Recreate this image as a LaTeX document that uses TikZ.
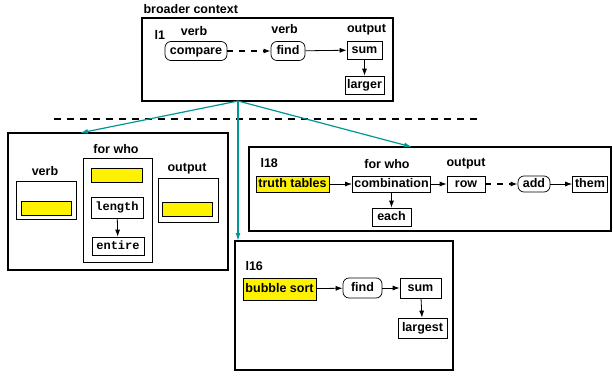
\documentclass[tikz,border=0pt]{standalone}
\usepackage{fontspec}
\setsansfont{Liberation Sans}
\setmonofont{Liberation Mono}
\usetikzlibrary{arrows.meta}
\definecolor{tealc}{RGB}{0,150,150}
\tikzset{
  frame/.style={draw,line width=1.6pt,inner sep=0pt},
  bx/.style={draw,line width=0.7pt,inner xsep=2pt,inner ysep=0pt,text height=9pt,text depth=2.5pt,minimum height=18pt},
  rbx/.style={bx,rounded corners=6pt},
  hl/.style={bx,fill=yellow},
  mono/.style={font=\ttfamily\bfseries\fontsize{12}{14}\selectfont},
  lab/.style={anchor=base},
  arr/.style={-{Latex[length=7pt,width=5pt]},line width=0.8pt},
  darr/.style={arr,line width=1.3pt,dash pattern=on 6pt off 6pt},
  tarr/.style={-{Latex[length=8pt,width=5pt]},draw=tealc,line width=1.2pt},
}
\begin{document}
\begin{tikzpicture}[x=1pt,y=-1pt,font=\sffamily\bfseries\fontsize{12.5}{14}\selectfont]
\useasboundingbox(0,0)rectangle(613,375);

\node[lab,anchor=base west](bc)at(140,13){broader context};
\node[frame,minimum width=251pt,minimum height=83pt](f1)at(267.5,59.5){};
\node[lab,anchor=base west](n1)at(151,39){l1};
\node[lab](v1)at(194,35){verb};
\node[lab](v2)at(284.5,33){verb};
\node[lab](o1)at(366.5,32){output};
\node[rbx,minimum width=62pt,minimum height=19pt](cmp)at(196,51){compare};
\node[rbx,minimum width=34pt,minimum height=19pt](fnd1)at(288,51){find};
\node[bx,minimum width=35pt](sum1)at(364.5,50){sum};
\node[bx,minimum width=37pt](lrg)at(364.5,85){larger};
\draw[darr](cmp)--(fnd1);
\draw[arr](fnd1)--(sum1);
\draw[arr](sum1)--(lrg);

\draw[line width=1.3pt,dash pattern=on 7pt off 6pt](54,119)--(478,119);

\node[frame,minimum width=220pt,minimum height=137pt](fl)at(118,201.5){};
\node[lab](v3)at(45,175){verb};
\node[lab](w1)at(116,153){for who};
\node[lab](o2)at(187,171){output};
\node[draw,line width=0.7pt,minimum width=60pt,minimum height=38pt](vb)at(46,200){};
\node[hl,minimum width=50pt,minimum height=14pt](y1)at(46,208){};
\node[draw,line width=0.7pt,minimum width=69pt,minimum height=104pt](wb)at(117.5,210){};
\node[hl,minimum width=51pt,minimum height=14pt](y2)at(116.5,175){};
\node[bx,mono,minimum width=52pt,minimum height=21pt](len)at(117,207.5){length};
\node[bx,mono,minimum width=52pt](ent)at(118,246){entire};
\draw[arr](len)--(ent);
\node[draw,line width=0.7pt,minimum width=60pt,minimum height=44pt](ob)at(188,200){};
\node[hl,minimum width=50pt,minimum height=14pt](y3)at(187,209){};

\node[frame,minimum width=362pt,minimum height=84pt](f18)at(430,189){};
\node[lab,anchor=base west](n18)at(257,167){l18};
\node[lab](w2)at(387,168){for who};
\node[lab](o3)at(466,166){output};
\node[hl,minimum width=73pt,minimum height=16pt](tt)at(292.5,184){truth tables};
\node[bx,minimum width=77pt,minimum height=16pt](cmb)at(391.5,184){combination};
\node[bx,minimum width=38pt,minimum height=16pt](row)at(466,184){row};
\node[rbx,minimum width=32pt,minimum height=16pt](add)at(534,184){add};
\node[bx,minimum width=35pt,minimum height=16pt](thm)at(590,184){them};
\node[bx,minimum width=39pt](each)at(391.5,217){each};
\draw[arr](tt)--(cmb);
\draw[arr](cmb)--(row);
\draw[arr](cmb)--(each);
\draw[darr](row)--(add);
\draw[arr](add)--(thm);

\node[frame,minimum width=218pt,minimum height=129pt](f16)at(344,305.5){};
\node[lab,anchor=base west](n16)at(242,270){l16};
\node[hl,minimum width=73pt,minimum height=22pt](bs)at(279.5,289){bubble sort};
\node[rbx,minimum width=39pt,minimum height=20pt](fnd2)at(362.5,288){find};
\node[bx,minimum width=41pt,minimum height=20pt](sum2)at(420.5,288){sum};
\node[bx,minimum width=49pt,minimum height=20pt](lgt)at(422.5,328){largest};
\draw[arr](bs)--(fnd2);
\draw[arr](fnd2)--(sum2);
\draw[arr](sum2)--(lgt);

\coordinate(src)at(238,101);
\coordinate(tl)at(80,133);
\coordinate(t18)at(412,147);
\coordinate(t16)at(238,241);
\draw[tarr](src)--(tl);
\draw[tarr](src)--(t18);
\draw[tarr](src)--(t16);
\end{tikzpicture}
\end{document}
